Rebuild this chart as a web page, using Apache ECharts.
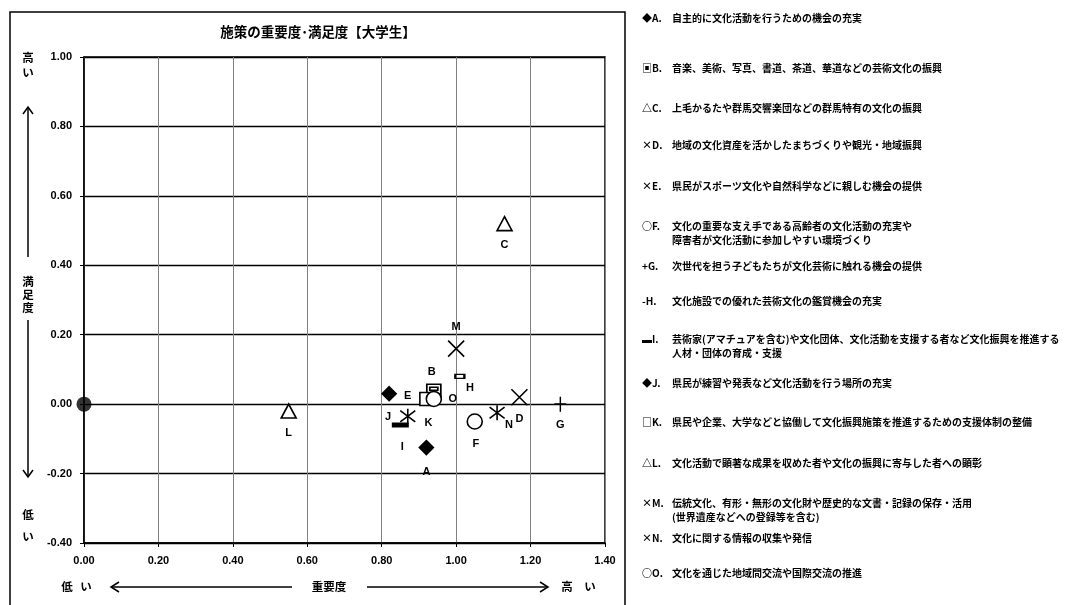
<!DOCTYPE html>
<html>
<head>
<meta charset="utf-8">
<script src="https://cdn.jsdelivr.net/npm/echarts@6/dist/echarts.min.js"></script>
<style>
html,body{margin:0;padding:0;background:#fff;}
#chart{width:1065px;height:605px;}
</style>
</head>
<body>
<div id="chart"></div>
<script>
// ---- data ----
const letters = ['A','B','C','D','E','F','G','H','I','J','K','L','M','N','O'];
const importance   = [0.92, 0.94, 1.13, 1.17, 0.87, 1.05, 1.28, 1.01, 0.85, 0.82, 0.92, 0.55, 1.00, 1.11, 0.94];
const satisfaction = [-0.125, 0.04, 0.52, 0.02, -0.035, -0.05, 0.00, 0.08, -0.06, 0.03, 0.015, -0.02, 0.16, -0.025, 0.015];
const originPoint = [0, 0];
const legendMarks = ['◆A.','▣B.','△C.','×D.','×E.','○F.','+G.','-H.','▬I.','◆J.','□K.','△L.','×M.','×N.','○O.'];
const descriptions = [
  '自主的に文化活動を行うための機会の充実',
  '音楽、美術、写真、書道、茶道、華道などの芸術文化の振興',
  '上毛かるたや群馬交響楽団などの群馬特有の文化の振興',
  '地域の文化資産を活かしたまちづくりや観光・地域振興',
  '県民がスポーツ文化や自然科学などに親しむ機会の提供',
  '文化の重要な支え手である高齢者の文化活動の充実や\n障害者が文化活動に参加しやすい環境づくり',
  '次世代を担う子どもたちが文化芸術に触れる機会の提供',
  '文化施設での優れた芸術文化の鑑賞機会の充実',
  '芸術家(アマチュアを含む)や文化団体、文化活動を支援する者など文化振興を推進する\n人材・団体の育成・支援',
  '県民が練習や発表など文化活動を行う場所の充実',
  '県民や企業、大学などと協働して文化振興施策を推進するための支援体制の整備',
  '文化活動で顕著な成果を収めた者や文化の振興に寄与した者への顕彰',
  '伝統文化、有形・無形の文化財や歴史的な文書・記録の保存・活用\n(世界遺産などへの登録等を含む)',
  '文化に関する情報の収集や発信',
  '文化を通じた地域間交流や国際交流の推進'
];
const xMin = 0, xMax = 1.4, yMin = -0.4, yMax = 1.0, step = 0.2;

// ---- styling / layout (not data) ----
const X_PATH = 'path://M0,0L16,16M16,0L0,16';
const STAR_PATH = 'path://M1,2L15,14M15,2L1,14M8,0L8,16';
const PLUS_PATH = 'path://M8,0L8,16M0,8L16,8';
const B_PATH = 'path://M0,0L14,0L14,12L0,12Z M3,3L11,3L11,6L3,6Z';
const markStyle = {
  A:{symbol:'diamond', size:14, fill:'#000'},
  B:{symbol:B_PATH, size:[14,12], fill:'#fff'},
  C:{symbol:'triangle', size:[15,14], fill:'#fff'},
  D:{symbol:X_PATH, size:16, fill:'transparent'},
  E:{symbol:STAR_PATH, size:15, fill:'transparent'},
  F:{symbol:'circle', size:15, fill:'#fff'},
  G:{symbol:PLUS_PATH, size:[12,15], fill:'transparent'},
  H:{symbol:'rect', size:[9,4], fill:'#fff'},
  I:{symbol:'rect', size:[14,4], fill:'#000'},
  J:{symbol:'diamond', size:14, fill:'#000'},
  K:{symbol:'rect', size:13, fill:'#fff'},
  L:{symbol:'triangle', size:[15,14], fill:'#fff'},
  M:{symbol:X_PATH, size:16, fill:'transparent'},
  N:{symbol:STAR_PATH, size:15, fill:'transparent'},
  O:{symbol:'circle', size:15, fill:'#fff'}
};
const labelOffset = {
  A:[0,24], B:[-2,-18], C:[0,21], D:[0,22], E:[0,-20], F:[1,22], G:[0,21],
  H:[10,12], I:[2,22], J:[-1,23], K:[2,24], L:[0,22], M:[0,-22], N:[12,12], O:[19,0]
};
const legendY = [18,68,108,145,186,226,266,301,339,383,422,463,503,538,573];

const series = letters.map((L, i) => {
  const s = markStyle[L];
  return {
    type:'scatter',
    name:L,
    data:[[importance[i], satisfaction[i]]],
    symbol:s.symbol,
    symbolSize:s.size,
    itemStyle:{color:s.fill, borderColor:'#000', borderWidth:1.6, opacity:1},
    label:{show:true, position:'inside', offset:labelOffset[L], formatter:L,
      color:'#000', fontSize:11, fontWeight:'bold', fontFamily:'Liberation Sans, Arial'},
    emphasis:{disabled:true},
    z: 3
  };
});
series.push({
  type:'scatter', name:'origin', data:[originPoint], symbol:'circle', symbolSize:15,
  itemStyle:{color:'#000'}, emphasis:{disabled:true}, z:4
});

const FONT_JP = '"Noto Sans CJK JP", "Noto Sans", sans-serif';
const graphic = [];
// outer frame and divider
graphic.push({type:'rect', shape:{x:10, y:12, width:615, height:600}, style:{fill:'none', stroke:'#000', lineWidth:1.5}, silent:true});
// title
graphic.push({type:'text', x:318, y:32, style:{text:'施策の重要度･満足度【大学生】', font:'bold 13.5px '+FONT_JP, fill:'#000', textAlign:'center', textVerticalAlign:'middle'}});
// vertical axis captions
const vtext = (t, x, y) => graphic.push({type:'text', x:x, y:y, style:{text:t, font:'bold 11.5px '+FONT_JP, fill:'#000', textAlign:'center', textVerticalAlign:'middle'}});
vtext('高',28,58); vtext('い',28,73);
vtext('満',28,282); vtext('足',28,295); vtext('度',28,308);
vtext('低',28,515); vtext('い',28,537);
const line = (x1,y1,x2,y2) => graphic.push({type:'line', shape:{x1,y1,x2,y2}, style:{stroke:'#000', lineWidth:1.5}, silent:true});
const poly = (pts) => graphic.push({type:'polyline', shape:{points:pts}, style:{stroke:'#000', lineWidth:1.5, fill:'none'}, silent:true});
line(28,107,28,257); poly([[23,114],[28,107],[33,114]]);
line(28,320,28,477); poly([[23,470],[28,477],[33,470]]);
// horizontal axis captions
const htext = (t, x, y) => graphic.push({type:'text', x:x, y:y, style:{text:t, font:'bold 11.5px '+FONT_JP, fill:'#000', textAlign:'center', textVerticalAlign:'middle'}});
htext('低',67,587); htext('い',86,587);
htext('重要度',329,587);
htext('高',567,587); htext('い',590,587);
line(111,587,292,587); poly([[119,582],[111,587],[119,592]]);
line(367,587,548,587); poly([[540,582],[548,587],[540,592]]);
// legend panel
letters.forEach((L, i) => {
  graphic.push({type:'text', x:642, y:legendY[i]-7, style:{text:legendMarks[i], font:'bold 10px '+FONT_JP, fill:'#000', textAlign:'left', textVerticalAlign:'top', lineHeight:14}});
  graphic.push({type:'text', x:672, y:legendY[i]-7, style:{text:descriptions[i], font:'bold 10px '+FONT_JP, fill:'#000', textAlign:'left', textVerticalAlign:'top', lineHeight:14}});
});

const chart = echarts.init(document.getElementById('chart'), null, {renderer:'canvas'});
chart.setOption({
  backgroundColor:'#fff',
  animation:false,
  grid:{left:84, right:460, top:57, bottom:62, show:true, borderColor:'#000', borderWidth:1.5, backgroundColor:'transparent'},
  xAxis:{
    type:'value', min:xMin, max:xMax, interval:step,
    axisLine:{show:true, onZero:false, lineStyle:{color:'#000', width:1.5}},
    axisTick:{show:true, length:4, lineStyle:{color:'#000'}},
    axisLabel:{margin:12, color:'#000', fontSize:11, fontWeight:'bold', fontFamily:'Liberation Sans, Arial', formatter:v => v.toFixed(2)},
    splitLine:{show:true, lineStyle:{color:'#808080', width:1}}
  },
  yAxis:{
    type:'value', min:yMin, max:yMax, interval:step,
    axisLine:{show:true, onZero:false, lineStyle:{color:'#000', width:1.5}},
    axisTick:{show:true, length:4, lineStyle:{color:'#000'}},
    axisLabel:{margin:12, color:'#000', fontSize:11, fontWeight:'bold', fontFamily:'Liberation Sans, Arial', formatter:v => v.toFixed(2)},
    splitLine:{show:true, lineStyle:{color:'#000', width:1.3}}
  },
  series:series,
  graphic:graphic
});
</script>
</body>
</html>
